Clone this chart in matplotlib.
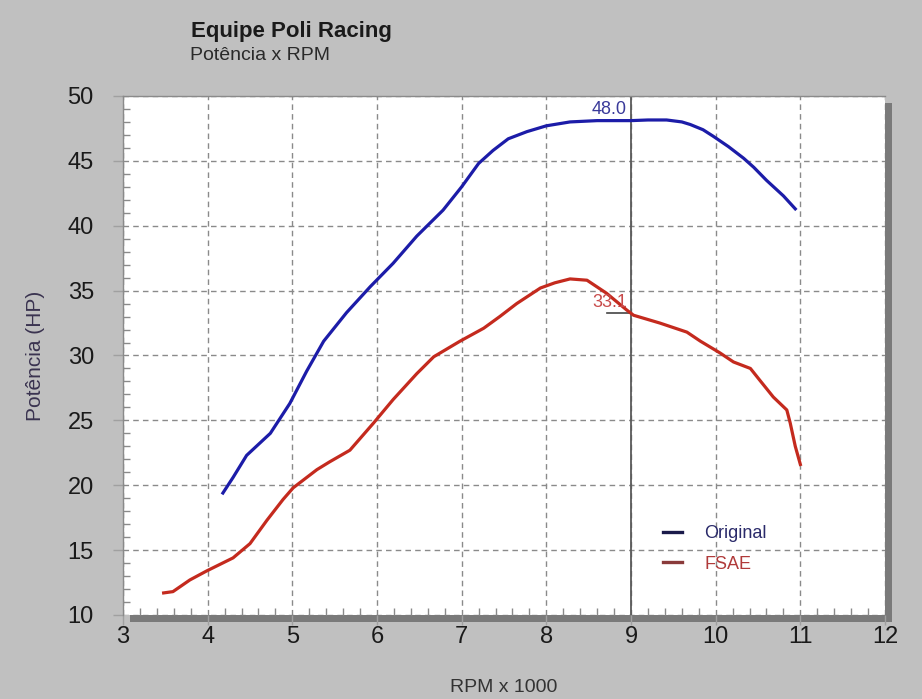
import numpy as np
import matplotlib
matplotlib.use("Agg")
from matplotlib import pyplot as plt
from matplotlib.patches import Rectangle
from matplotlib.ticker import MultipleLocator

plt.rcParams['font.family'] = ['Liberation Sans', 'DejaVu Sans']

## data (RPM x 1000, HP)
rpm_original = [4.18, 4.30, 4.46, 4.74, 4.97, 5.17, 5.37, 5.64, 5.92, 6.19, 6.47,
                6.78, 7.00, 7.20, 7.37, 7.55, 7.77, 8.00, 8.28, 8.60, 9.00, 9.20,
                9.42, 9.60, 9.70, 9.85, 9.97, 10.15, 10.33, 10.45, 10.60, 10.80, 10.94]
hp_original = [19.4, 20.6, 22.3, 24.0, 26.3, 28.8, 31.1, 33.3, 35.3, 37.1, 39.2,
               41.2, 43.0, 44.8, 45.8, 46.7, 47.25, 47.7, 48.0, 48.1, 48.1, 48.15,
               48.15, 48.0, 47.8, 47.4, 46.9, 46.1, 45.2, 44.5, 43.5, 42.3, 41.3]

rpm_fsae = [3.48, 3.59, 3.79, 3.99, 4.30, 4.50, 4.70, 4.89, 5.01, 5.29, 5.44,
            5.68, 5.96, 6.19, 6.47, 6.67, 6.98, 7.26, 7.45, 7.65, 7.93, 8.10,
            8.28, 8.48, 8.71, 8.95, 9.03, 9.34, 9.66, 9.82, 10.05, 10.21, 10.41,
            10.52, 10.68, 10.84, 10.88, 10.94, 11.00]
hp_fsae = [11.7, 11.8, 12.7, 13.4, 14.4, 15.5, 17.3, 18.9, 19.8, 21.2, 21.8,
           22.7, 24.8, 26.6, 28.6, 29.9, 31.1, 32.1, 33.0, 34.0, 35.2, 35.6,
           35.9, 35.8, 34.8, 33.5, 33.1, 32.5, 31.8, 31.1, 30.2, 29.5, 29.0,
           28.1, 26.8, 25.8, 24.8, 23.0, 21.6]

cursor_rpm = 9.0
cursor_original = 48.0
cursor_fsae = 33.1

bg = '#c0c0c0'
blue = '#1c1ca8'
red = '#c42a1e'

fig = plt.figure(figsize=(9.22, 6.99), dpi=100, facecolor=bg)
ax = fig.add_axes([0.1334, 0.1202, 0.8265, 0.7425])
ax.set_facecolor('white')

# drop shadow behind the plot area
pos = ax.get_position()
sx, sy = 7 / 922, 7 / 699
fig.patches.append(Rectangle((pos.x0 + sx, pos.y0 - sy), pos.width, pos.height,
                             transform=fig.transFigure, facecolor='#7a7a7a',
                             edgecolor='none', zorder=-1))

ax.plot(rpm_original, hp_original, color=blue, lw=2.3, label='Original', zorder=3)
ax.plot(rpm_fsae, hp_fsae, color=red, lw=2.3, label='FSAE', zorder=3)

ax.axvline(cursor_rpm, color='#5a5a5a', lw=1.3, zorder=2)
ax.text(cursor_rpm - 0.05, cursor_original + 0.3, '%.1f' % cursor_original,
        color='#3a3a9a', fontsize=13, ha='right', va='bottom')
ax.text(cursor_rpm - 0.05, cursor_fsae + 0.3, '%.1f' % cursor_fsae,
        color='#c84a4a', fontsize=13, ha='right', va='bottom')
ax.plot([cursor_rpm - 0.28, cursor_rpm], [cursor_fsae + 0.15, cursor_fsae + 0.15],
        color='#444444', lw=1.2, zorder=2)

ax.set_xlim(3, 12)
ax.set_ylim(10, 50)
ax.xaxis.set_major_locator(MultipleLocator(1))
ax.xaxis.set_minor_locator(MultipleLocator(0.2))
ax.yaxis.set_major_locator(MultipleLocator(5))
ax.yaxis.set_minor_locator(MultipleLocator(1))

ax.grid(True, which='major', color='#8a8a8a', lw=1.0, linestyle=(0, (4, 3)))
ax.tick_params(which='major', direction='out', length=7, width=1, color='#a0a0a0',
               labelsize=17, labelcolor='#1a1a1a')
ax.tick_params(axis='y', which='major', pad=14)
ax.tick_params(axis='x', which='major', pad=1)
ax.tick_params(which='minor', direction='in', length=5, width=1, color='#8a8a8a')

for side in ['top', 'left']:
    ax.spines[side].set_color('#8a8a8a')
    ax.spines[side].set_linewidth(1)
for side in ['right', 'bottom']:
    ax.spines[side].set_visible(False)

ax.set_xlabel('RPM x 1000', fontsize=14, color='#333333', labelpad=22)
ax.set_ylabel('Potência (HP)', fontsize=15, color='#3a3350', labelpad=16)

fig.text(0.207, 0.955, 'Equipe Poli Racing', fontsize=16, fontweight='bold',
         color='#1a1a1a', ha='left', va='center')
fig.text(0.206, 0.921, 'Potência x RPM', fontsize=14, color='#2a2a2a',
         ha='left', va='center')

leg = ax.legend(loc='lower right', bbox_to_anchor=(0.866, 0.05), frameon=False,
                prop={'size': 13}, handlelength=1.1,
                handletextpad=1.2, labelspacing=0.75)
for line in leg.get_lines():
    line.set_linewidth(2.4)
leg.get_lines()[0].set_color('#1a1a4a')
leg.get_lines()[1].set_color('#8a3a3a')
leg.get_texts()[0].set_color('#2a2a6a')
leg.get_texts()[1].set_color('#b03a3a')

fig.savefig('out.png', dpi=100, facecolor=bg)
